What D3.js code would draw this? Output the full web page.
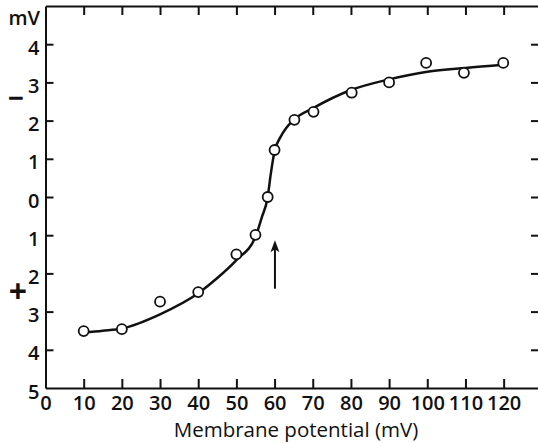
<!DOCTYPE html>
<html>
<head>
<meta charset="utf-8">
<script src="https://cdn.jsdelivr.net/npm/d3@7/dist/d3.min.js"></script>
<style>
  body { margin: 0; background: #fff; }
  svg { display: block; }
  text { font-family: "Open Sans", "Liberation Sans", sans-serif; font-weight: 600; fill: #111; }
</style>
</head>
<body>
<svg id="chart" width="538" height="443"></svg>
<script>
// measured points: membrane potential (mV) vs response (mV, "-" side positive)
const potential = [10, 20, 30, 40, 50, 55, 58.2, 60, 65.2, 70.2, 80.2, 90, 99.7, 109.6, 119.9];
const response  = [-3.51, -3.46, -2.74, -2.49, -1.5, -0.99, 0, 1.23, 2.02, 2.23, 2.73, 3.0, 3.51, 3.25, 3.51];

// hand drawn fitted curve
const curveX = [10, 15, 20, 30, 40, 45, 50, 55, 56.6, 58.2, 59, 60, 61.5, 63, 65, 70, 80, 90, 100, 110, 120];
const curveY = [-3.55, -3.5, -3.44, -3.07, -2.52, -2.12, -1.65, -1.04, -0.55, 0, 0.6, 1.2, 1.56, 1.8, 2.02, 2.32, 2.8, 3.08, 3.28, 3.38, 3.46];

const xTicks = [0, 10, 20, 30, 40, 50, 60, 70, 80, 90, 100, 110, 120];
const yTicks = [4, 3, 2, 1, 0, -1, -2, -3, -4, -5];
const yTickLabels = ["4", "3", "2", "1", "0", "1", "2", "3", "4", "5"];

// arrow marking the threshold
const arrowX = 60.1, arrowFrom = -2.4, arrowTo = -1.13;

const svg = d3.select("#chart");
const x = d3.scaleLinear().domain([0, 129]).range([45.5, 538]);
const y = d3.scaleLinear().domain([-5, 5]).range([388, 6]);

function styleAxis(g) {
  g.selectAll("path.domain").attr("stroke", "#111").attr("stroke-width", 2);
  g.selectAll(".tick line").attr("stroke", "#111").attr("stroke-width", 2);
  g.selectAll(".tick text").style("font-size", "20px").attr("fill", "#111");
}

// bottom axis
svg.append("g")
  .attr("transform", `translate(0,${y(-5)})`)
  .call(d3.axisBottom(x).tickValues(xTicks).tickSize(-9).tickSizeOuter(0).tickPadding(8))
  .call(styleAxis)
  .call(g => g.selectAll(".tick").filter(d => d === 0).select("line").remove());

// top axis (ticks only)
svg.append("g")
  .attr("transform", `translate(0,${y(5)})`)
  .call(d3.axisTop(x).tickValues(xTicks.slice(1)).tickSize(-9).tickSizeOuter(0).tickFormat(""))
  .call(styleAxis);

// left axis
const labelOf = new Map(yTicks.map((t, i) => [t, yTickLabels[i]]));
svg.append("g")
  .attr("transform", `translate(${x(0)},0)`)
  .call(d3.axisLeft(y).tickValues(yTicks).tickSize(-8).tickSizeOuter(0).tickPadding(6)
    .tickFormat(d => labelOf.get(d)))
  .call(styleAxis)
  .call(g => g.selectAll(".tick").filter(d => d === -5).select("line").remove())
  .call(g => g.selectAll(".tick text").attr("dy", "0.5em"));

// right axis (ticks only, axis line falls off the page)
svg.append("g")
  .attr("transform", `translate(538,0)`)
  .call(d3.axisRight(y).tickValues(yTicks.slice(0, -1)).tickSize(-7).tickSizeOuter(0).tickFormat(""))
  .call(styleAxis)
  .call(g => g.select("path.domain").remove());

// unit and sign labels
svg.append("text").attr("x", 40).attr("y", 25).attr("text-anchor", "end")
  .style("font-size", "20px").text("mV");
svg.append("text").attr("x", 16).attr("y", 108).attr("text-anchor", "middle")
  .style("font-size", "28px").style("font-weight", 700).text("\u2212");
svg.append("text").attr("x", 18).attr("y", 303).attr("text-anchor", "middle")
  .style("font-size", "32px").style("font-weight", 700).text("+");

// x axis title
svg.append("text").attr("x", 296).attr("y", 437).attr("text-anchor", "middle")
  .style("font-size", "20.5px").style("font-weight", 500).text("Membrane potential (mV)");

// fitted curve
const curvePts = curveX.map((v, i) => [v, curveY[i]]);
svg.append("path")
  .datum(curvePts)
  .attr("fill", "none").attr("stroke", "#111").attr("stroke-width", 2.5)
  .attr("d", d3.line().x(d => x(d[0])).y(d => y(d[1])).curve(d3.curveMonotoneX));

// data points
svg.append("g").selectAll("circle")
  .data(potential.map((v, i) => [v, response[i]]))
  .join("circle")
  .attr("cx", d => x(d[0])).attr("cy", d => y(d[1])).attr("r", 5)
  .attr("fill", "#fff").attr("stroke", "#111").attr("stroke-width", 1.8);

// arrow
const ax = x(arrowX), ay0 = y(arrowFrom), ay1 = y(arrowTo);
svg.append("line")
  .attr("x1", ax).attr("x2", ax).attr("y1", ay0).attr("y2", ay1 + 4)
  .attr("stroke", "#111").attr("stroke-width", 2);
svg.append("path")
  .attr("d", `M${ax},${ay1} L${ax - 4.5},${ay1 + 12} L${ax},${ay1 + 9} L${ax + 4.5},${ay1 + 12} Z`)
  .attr("fill", "#111");
</script>
</body>
</html>
